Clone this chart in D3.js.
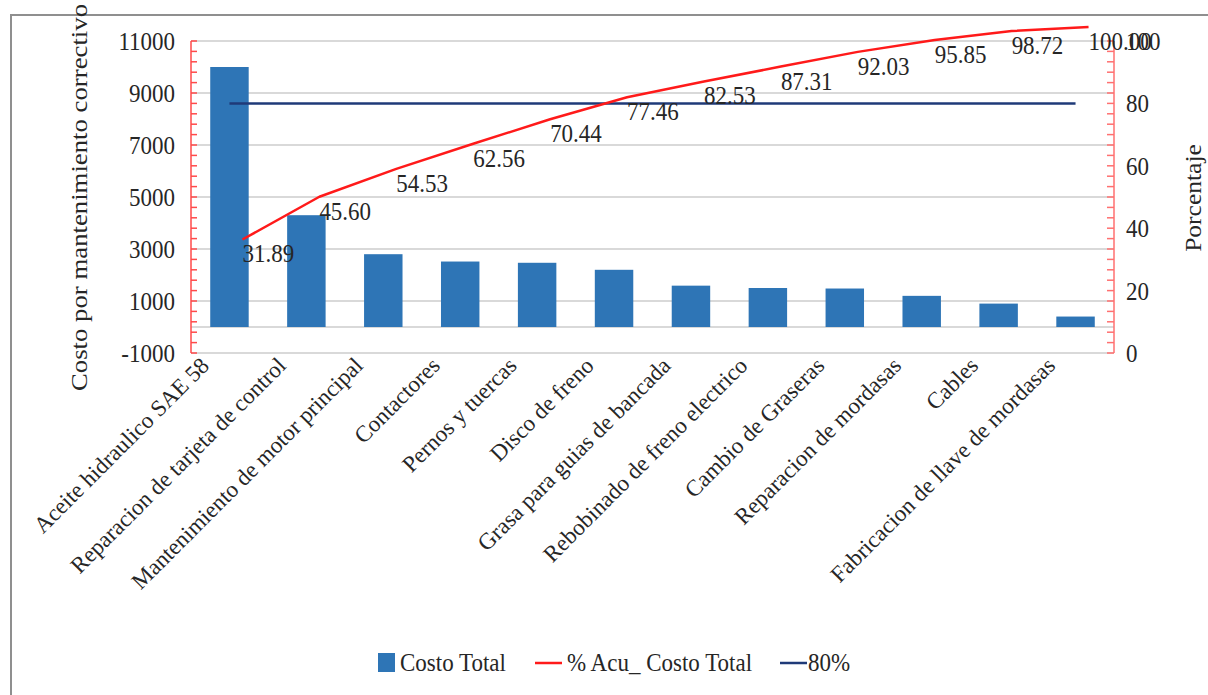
<!DOCTYPE html>
<html>
<head>
<meta charset="utf-8">
<script src="https://cdn.jsdelivr.net/npm/d3@7"></script>
<style>
  html, body { margin: 0; padding: 0; background: #fff; }
  svg { display: block; }
</style>
</head>
<body>
<svg id="chart" width="1208" height="695"></svg>
<script>
// Pareto data: corrective maintenance cost per item
const categories = [
  "Aceite hidraulico SAE 58",
  "Reparacion de tarjeta de control",
  "Mantenimiento de motor principal",
  "Contactores",
  "Pernos y tuercas",
  "Disco de freno",
  "Grasa para guias de bancada",
  "Rebobinado de freno electrico",
  "Cambio de Graseras",
  "Reparacion de mordasas",
  "Cables",
  "Fabricacion de llave de mordasas"
];
const costoTotal = [10000, 4300, 2800, 2518, 2470, 2200, 1590, 1500, 1480, 1198, 900, 402];
const pctAcumulado = [31.89, 45.60, 54.53, 62.56, 70.44, 77.46, 82.53, 87.31, 92.03, 95.85, 98.72, 100.00];
const umbral = 80;
const leftTicks = [-1000, 1000, 3000, 5000, 7000, 9000, 11000];
const rightTicks = [0, 20, 40, 60, 80, 100];
const legendItems = ["Costo Total", "% Acu_ Costo Total", "80%"];

const svg = d3.select("#chart");
const FONT = "'Liberation Serif', 'Times New Roman', 'DejaVu Serif', serif";
const SY = 1.11;            // vertical text stretch
const FS = 23;              // base font size
const plot = { left: 191, right: 1114, top: 41, bottom: 353 };

const x = d3.scaleBand().domain(categories)
  .range([plot.left, plot.right]).paddingInner(0.5).paddingOuter(0.25);
const yL = d3.scaleLinear().domain([-1000, 11000]).range([plot.bottom, plot.top]);
const yR = d3.scaleLinear().domain([0, 100]).range([plot.bottom, plot.top]);
const cx = c => x(c) + x.bandwidth() / 2;

function label(g, tx, ty, str, opts = {}) {
  const rot = opts.rotate || 0;
  const sy = opts.sy === undefined ? SY : opts.sy;
  return g.append("text")
    .attr("transform", `translate(${tx},${ty}) scale(1,${sy}) rotate(${rot})`)
    .attr("text-anchor", opts.anchor || "start")
    .attr("dominant-baseline", opts.baseline || "auto")
    .attr("font-family", FONT)
    .attr("font-size", opts.size || FS)
    .attr("fill", "#262626")
    .text(str);
}

// outer frame
svg.append("rect").attr("x", 11).attr("y", 15).attr("width", 1300).attr("height", 800)
  .attr("fill", "none").attr("stroke", "#8f8f8f").attr("stroke-width", 2);

// gridlines
const grid = svg.append("g");
grid.selectAll("line").data(leftTicks.concat([0])).join("line")
  .attr("x1", plot.left).attr("x2", plot.right)
  .attr("y1", d => yL(d)).attr("y2", d => yL(d))
  .attr("stroke", "#d9d9d9").attr("stroke-width", 2);

// bars
svg.append("g").selectAll("rect").data(categories).join("rect")
  .attr("x", d => x(d)).attr("width", x.bandwidth())
  .attr("y", (d, i) => yL(costoTotal[i]))
  .attr("height", (d, i) => yL(0) - yL(costoTotal[i]))
  .attr("fill", "#2e75b6");

// left axis (red) with fine ticks
const axL = svg.append("g");
axL.append("line").attr("x1", plot.left).attr("x2", plot.left)
  .attr("y1", plot.top).attr("y2", plot.bottom).attr("stroke", "#ff4a4a").attr("stroke-width", 1.5);
axL.selectAll("line.t").data(d3.range(0, 31)).join("line").attr("class", "t")
  .attr("x1", plot.left).attr("x2", plot.left + 6)
  .attr("y1", d => yL(-1000 + d * 400)).attr("y2", d => yL(-1000 + d * 400))
  .attr("stroke", "#ff4a4a").attr("stroke-width", 1.5);
leftTicks.forEach(t => label(axL, 175, yL(t), String(t), { anchor: "end", baseline: "central" }));

// right axis (red) with fine ticks
const axR = svg.append("g");
axR.append("line").attr("x1", plot.right).attr("x2", plot.right)
  .attr("y1", plot.top).attr("y2", plot.bottom).attr("stroke", "#ff7070").attr("stroke-width", 1.5);
axR.selectAll("line.t").data(d3.range(0, 31)).join("line").attr("class", "t")
  .attr("x1", plot.right - 7).attr("x2", plot.right)
  .attr("y1", d => yR(d * 100 / 30)).attr("y2", d => yR(d * 100 / 30))
  .attr("stroke", "#ff7070").attr("stroke-width", 1.5);
rightTicks.forEach(t => label(axR, 1126, yR(t), String(t), { baseline: "central" }));

// category labels
const axX = svg.append("g");
categories.forEach(c => label(axX, cx(c) - 19, 367, c, { anchor: "end", rotate: -45, sy: 1 }));

// 80% reference line
svg.append("line")
  .attr("x1", cx(categories[0])).attr("x2", cx(categories[categories.length - 1]))
  .attr("y1", yR(umbral)).attr("y2", yR(umbral))
  .attr("stroke", "#1f3a78").attr("stroke-width", 2.5);

// cumulative percentage line
const lineDX = 13, lineDY = -14;
const line = d3.line()
  .x((d, i) => cx(categories[i]) + lineDX)
  .y(d => yR(d) + lineDY);
svg.append("path").datum(pctAcumulado)
  .attr("d", line).attr("fill", "none")
  .attr("stroke", "#ff1a1a").attr("stroke-width", 2.5).attr("stroke-linejoin", "round");

const lbl = svg.append("g");
pctAcumulado.forEach((p, i) =>
  label(lbl, cx(categories[i]) + 13, yR(p), d3.format(".2f")(p), { baseline: "central" }));

// axis titles
label(svg, 87, 391, "Costo por mantenimiento correctivo", { rotate: -90, size: 24, sy: 1.115 });
label(svg, 1201, 198, "Porcentaje", { rotate: -90, anchor: "middle" });

// legend
const lg = svg.append("g");
lg.append("rect").attr("x", 378).attr("y", 653).attr("width", 17).attr("height", 19).attr("fill", "#2e75b6");
label(lg, 400, 662, legendItems[0], { baseline: "central" });
lg.append("line").attr("x1", 535).attr("x2", 562).attr("y1", 663).attr("y2", 663)
  .attr("stroke", "#ff1a1a").attr("stroke-width", 2.5);
label(lg, 567, 662, legendItems[1], { baseline: "central" });
lg.append("line").attr("x1", 780).attr("x2", 807).attr("y1", 663).attr("y2", 663)
  .attr("stroke", "#1f3a78").attr("stroke-width", 2.5);
label(lg, 808, 662, legendItems[2], { baseline: "central" });
</script>
</body>
</html>
